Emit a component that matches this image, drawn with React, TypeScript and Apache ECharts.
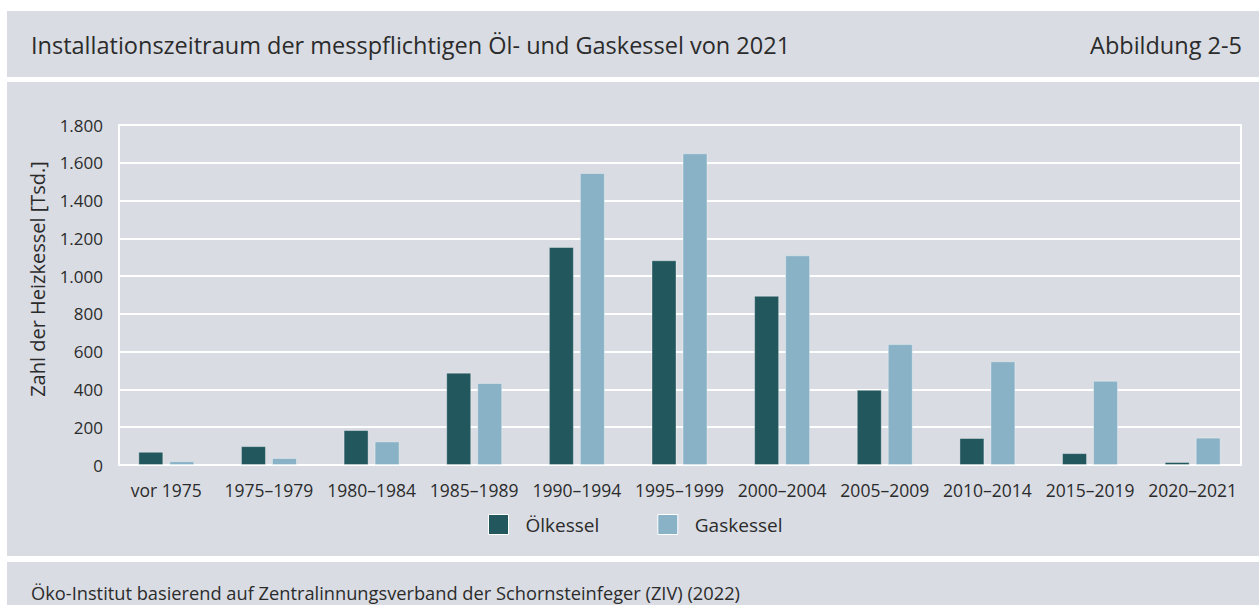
import React, { useEffect, useRef } from "react";
import * as echarts from "echarts";

const categories = [
  "vor 1975", "1975–1979", "1980–1984", "1985–1989", "1990–1994", "1995–1999",
  "2000–2004", "2005–2009", "2010–2014", "2015–2019", "2020–2021",
];
const oelkessel = [70, 100, 185, 489, 1154, 1084, 896, 398, 143, 63, 16];
const gaskessel = [20, 37, 125, 434, 1546, 1650, 1110, 640, 549, 446, 145];
const yTicks = { min: 0, max: 1800, interval: 200 };

const title = "Installationszeitraum der messpflichtigen Öl- und Gaskessel von 2021";
const figureLabel = "Abbildung 2-5";
const yAxisName = "Zahl der Heizkessel [Tsd.]";
const source = "Öko-Institut basierend auf Zentralinnungsverband der Schornsteinfeger (ZIV) (2022)";

const FONT = "'Open Sans', sans-serif";
const TEXT = "#2b2b2b";
const PANEL = "#d9dce3";
const DARK = "#22575e";
const LIGHT = "#89b2c6";

function fmt(v: number) {
  return v.toString().replace(/\B(?=(\d{3})+(?!\d))/g, ".");
}

export default function App() {
  const ref = useRef<HTMLDivElement>(null);
  useEffect(() => {
    if (!ref.current) return;
    const chart = echarts.init(ref.current, null, { renderer: "svg" });
    chart.setOption({
      animation: false,
      backgroundColor: "#ffffff",
      textStyle: { fontFamily: FONT },
      graphic: [
        { type: "rect", z: -10, shape: { x: 7, y: 11, width: 1252, height: 66 }, style: { fill: PANEL } },
        { type: "rect", z: -10, shape: { x: 7, y: 82, width: 1252, height: 474 }, style: { fill: PANEL } },
        { type: "rect", z: -10, shape: { x: 7, y: 562, width: 1252, height: 43 }, style: { fill: PANEL } },
        {
          type: "text", x: 31, y: 45,
          style: { text: title, fill: TEXT, font: `23.5px ${FONT}`, textVerticalAlign: "middle" },
        },
        {
          type: "text", x: 1242, y: 45,
          style: { text: figureLabel, fill: TEXT, font: `23.5px ${FONT}`, textAlign: "right", textVerticalAlign: "middle" },
        },
        {
          type: "text", x: 31, y: 592,
          style: { text: source, fill: TEXT, font: `18.25px ${FONT}`, textVerticalAlign: "middle" },
        },
        {
          type: "text", x: 37, y: 279, rotation: Math.PI / 2,
          style: { text: yAxisName, fill: TEXT, font: `20px ${FONT}`, textAlign: "center", textVerticalAlign: "middle" },
        },
      ],
      legend: {
        left: 488,
        top: 514,
        padding: 0,
        itemWidth: 20,
        itemHeight: 20,
        itemGap: 58,
        icon: "rect",
        itemStyle: { borderColor: "#ffffff", borderWidth: 1 },
        textStyle: { fontFamily: FONT, fontSize: 19, color: TEXT, padding: [0, 0, 0, 12] },
        data: ["Ölkessel", "Gaskessel"],
      },
      grid: [
        {
          left: 119, right: 18, top: 125, bottom: 140,
          show: true, borderColor: "#ffffff", borderWidth: 2, backgroundColor: "transparent",
        },
        { left: 115, right: 15, top: 125, bottom: 140 },
      ],
      xAxis: [
        {
          gridIndex: 0,
          type: "category",
          data: categories,
          axisLine: { show: true, lineStyle: { color: "#ffffff", width: 2 } },
          axisTick: { show: false },
          axisLabel: { show: false },
        },
        {
          gridIndex: 1,
          type: "category",
          data: categories,
          axisLine: { show: false },
          axisTick: { show: false },
          axisLabel: { color: TEXT, fontSize: 17.5, fontFamily: FONT, margin: 16, interval: 0 },
        },
      ],
      yAxis: [
        {
          gridIndex: 0,
          type: "value",
          min: yTicks.min, max: yTicks.max, interval: yTicks.interval,
          axisLine: { show: false },
          axisTick: { show: false },
          axisLabel: { color: TEXT, fontSize: 17, fontFamily: FONT, margin: 16, formatter: (v: number) => fmt(v) },
          splitLine: { lineStyle: { color: "#ffffff", width: 2 } },
        },
        {
          gridIndex: 1,
          type: "value",
          min: yTicks.min, max: yTicks.max, interval: yTicks.interval,
          axisLine: { show: false },
          axisTick: { show: false },
          axisLabel: { show: false },
          splitLine: { show: false },
        },
      ],
      series: [
        {
          name: "Ölkessel", type: "bar", data: oelkessel, barWidth: 25, barGap: "24%",
          xAxisIndex: 1, yAxisIndex: 1,
          itemStyle: { color: DARK, borderColor: "rgba(255,255,255,0.35)", borderWidth: 1 },
        },
        {
          name: "Gaskessel", type: "bar", data: gaskessel, barWidth: 25,
          xAxisIndex: 1, yAxisIndex: 1,
          itemStyle: { color: LIGHT, borderColor: "rgba(255,255,255,0.35)", borderWidth: 1 },
        },
      ],
    });
    return () => chart.dispose();
  }, []);
  return (
    <div
      ref={ref}
      style={{ position: "fixed", left: 0, top: 0, width: 1259, height: 605 }}
    />
  );
}
